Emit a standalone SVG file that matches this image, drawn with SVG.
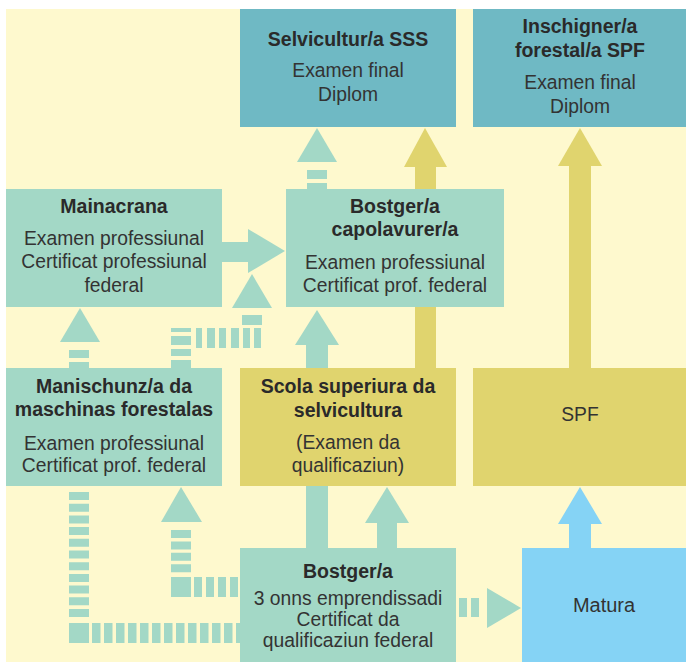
<svg xmlns="http://www.w3.org/2000/svg" width="686" height="662" viewBox="0 0 686 662">
<style>
.t{font-family:"Liberation Sans",Arial,sans-serif;font-weight:bold;font-size:19.5px;fill:#2a2a2a;text-anchor:middle}
.s{font-family:"Liberation Sans",Arial,sans-serif;font-size:19.3px;fill:#333;text-anchor:middle}
.g{fill:#A3D8C6}
.y{fill:#E0D46E}
.b{fill:#85D3F5}
.d{fill:#6FB9C4}
.dg{fill:none;stroke:#A3D8C6;stroke-width:20}
</style>
<rect width="686" height="662" fill="#fff"/>
<rect x="6" y="9" width="680" height="653" fill="#FEF9CE"/>
<g id="connectors">
<polygon class="g" points="317,128 297,162 337,162"/>
<rect class="g" x="307" y="170" width="20" height="9"/>
<rect class="g" x="307" y="183" width="20" height="6"/>
<polygon class="y" points="425,128 404,167 447,167"/>
<rect class="y" x="415" y="166" width="21" height="202"/>
<polygon class="y" points="580,128 558,166 602,166"/>
<rect class="y" x="569" y="165" width="22" height="203"/>
<rect class="g" x="222" y="242" width="27" height="20"/>
<polygon class="g" points="248,229 248,273 285,251"/>
<polygon class="g" points="80,308 60,342 100,342"/>
<rect class="g" x="69" y="350" width="20" height="8"/>
<rect class="g" x="69" y="362" width="20" height="6"/>
<polygon class="g" points="252,274 232,308 272,308"/>
<rect class="g" x="242" y="315" width="20" height="10"/>
<rect class="g" x="171" y="328" width="20" height="4"/>
<rect class="g" x="171" y="336" width="20" height="9"/>
<rect class="g" x="171" y="349" width="20" height="7"/>
<rect class="g" x="171" y="360" width="20" height="8"/>
<rect class="g" x="196" y="328" width="6" height="20"/>
<rect class="g" x="207" y="328" width="8" height="20"/>
<rect class="g" x="219" y="328" width="7" height="20"/>
<rect class="g" x="231" y="328" width="8" height="20"/>
<rect class="g" x="243" y="328" width="7" height="20"/>
<rect class="g" x="254" y="328" width="7" height="20"/>
<path class="dg" d="M79,492 V620" stroke-dasharray="8 3.7"/>
<rect class="g" x="69" y="623" width="20" height="20"/>
<path class="dg" d="M92,633 H240" stroke-dasharray="8.5 3.5"/>
<polygon class="g" points="181,487 161,522 202,522"/>
<path class="dg" d="M181,530 V574" stroke-dasharray="8 3.4"/>
<rect class="g" x="171" y="577" width="20" height="20"/>
<path class="dg" d="M194,587 H240" stroke-dasharray="8 4"/>
<polygon class="g" points="317,310 295,345 339,345"/>
<rect class="g" x="306" y="344" width="22" height="204"/>
<polygon class="g" points="387,487 365,523 409,523"/>
<rect class="g" x="377" y="522" width="20" height="26"/>
<rect class="g" x="459" y="598" width="8" height="19"/>
<rect class="g" x="471" y="598" width="8" height="19"/>
<polygon class="g" points="487,588 487,628 521,608"/>
<polygon class="b" points="580,487 558,524 602,524"/>
<rect class="b" x="569" y="523" width="22" height="25"/>
</g>
<g id="selvicultur">
<rect class="d" x="240" y="9" width="216" height="118"/>
<text class="t" x="348" y="46">Selvicultur/a SSS</text>
<text class="s" x="348" y="77">Examen final</text>
<text class="s" x="348" y="101">Diplom</text>
</g>
<g id="inschigner">
<rect class="d" x="473" y="9" width="213" height="118"/>
<text class="t" x="580" y="33">Inschigner/a</text>
<text class="t" x="580" y="57">forestal/a SPF</text>
<text class="s" x="580" y="89">Examen final</text>
<text class="s" x="580" y="113">Diplom</text>
</g>
<g id="mainacrana">
<rect class="g" x="6" y="189" width="216" height="118"/>
<text class="t" x="114" y="213">Mainacrana</text>
<text class="s" x="114" y="245">Examen professiunal</text>
<text class="s" x="114" y="268">Certificat professiunal</text>
<text class="s" x="114" y="292">federal</text>
</g>
<g id="capolavurer">
<rect class="g" x="286" y="189" width="218" height="118"/>
<text class="t" x="395" y="213">Bostger/a</text>
<text class="t" x="395" y="236">capolavurer/a</text>
<text class="s" x="395" y="269">Examen professiunal</text>
<text class="s" x="395" y="292">Certificat prof. federal</text>
</g>
<g id="manischunz">
<rect class="g" x="6" y="368" width="216" height="118"/>
<text class="t" x="114" y="393">Manischunz/a da</text>
<text class="t" x="114" y="416">maschinas forestalas</text>
<text class="s" x="114" y="450">Examen professiunal</text>
<text class="s" x="114" y="472">Certificat prof. federal</text>
</g>
<g id="scola">
<rect class="y" x="240" y="368" width="216" height="118"/>
<text class="t" x="348" y="393">Scola superiura da</text>
<text class="t" x="348" y="417">selvicultura</text>
<text class="s" x="348" y="449">(Examen da</text>
<text class="s" x="348" y="472">qualificaziun)</text>
</g>
<g id="spf">
<rect class="y" x="473" y="368" width="213" height="118"/>
<text class="s" x="580" y="421">SPF</text>
</g>
<g id="bostger">
<rect class="g" x="240" y="548" width="216" height="114"/>
<text class="t" x="348" y="578">Bostger/a</text>
<text class="s" x="348" y="605">3 onns emprendissadi</text>
<text class="s" x="348" y="626">Certificat da</text>
<text class="s" x="348" y="647">qualificaziun federal</text>
</g>
<g id="matura">
<rect class="b" x="522" y="548" width="164" height="114"/>
<text class="s" x="604" y="612" style="font-size:20px">Matura</text>
</g>
</svg>
